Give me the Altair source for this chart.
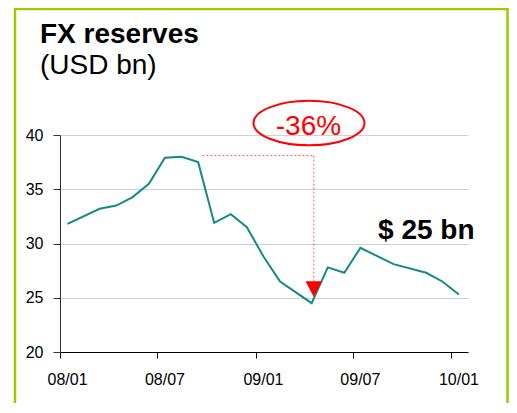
import altair as alt
import pandas as pd

# ---- data ----
dates = ["2008-01-15", "2008-03-15", "2008-04-15", "2008-05-15", "2008-06-15",
         "2008-07-15", "2008-08-15", "2008-09-15", "2008-10-15", "2008-11-15",
         "2008-12-15", "2009-01-15", "2009-02-15", "2009-04-15", "2009-05-15",
         "2009-06-15", "2009-07-15", "2009-09-15", "2009-11-15", "2009-12-15",
         "2010-01-15"]
reserves = [31.8, 33.2, 33.5, 34.25, 35.5, 37.9, 38.0, 37.5, 31.9, 32.7,
            31.5, 28.8, 26.5, 24.5, 27.8, 27.3, 29.6, 28.1, 27.3, 26.5, 25.3]

# titles
title_text = ["FX reserves"]
subtitle_text = ["(USD bn)"]

# annotation anchors (dates / values)
peak_start = ["2008-09-23"]
drop_date = ["2009-04-19"]
peak_level = [38.1]
trough_level = [26.5]
arrow_level = [25.8]
ellipse_date = ["2009-04-10"]
ellipse_level = [41.1]
pct_label = ["-36%"]
pct_date = ["2009-04-09"]
pct_level = [40.0]
last_label = ["$ 25 bn"]
last_date = ["2009-08-17"]
last_level = [30.4]

tick_dates = [(2008, 1), (2008, 7), (2009, 1), (2009, 7), (2010, 1)]
y_ticks = [20, 25, 30, 35, 40]

FONT = "Liberation Sans"
TEAL = "#138a88"
RED = "#ff0000"
GREEN = "#99cc00"

df = pd.DataFrame({"date": dates, "value": reserves})

x_scale = alt.Scale(
    type="utc",
    domain=[alt.DateTime(year=2008, month=1, date=1, utc=True),
            alt.DateTime(year=2010, month=2, date=1, utc=True)],
)
y_scale = alt.Scale(domain=[20, 40], zero=False, nice=False)

x_axis = alt.Axis(
    values=[alt.DateTime(year=y, month=m, date=1, utc=True) for y, m in tick_dates],
    format="%y/%m", grid=False, domainColor="black", tickColor="black",
    tickSize=6, labelFont=FONT, labelFontSize=16, labelColor="black",
    labelPadding=13, labelOffset=7, labelFlush=False, labelOverlap=False,
    title=None, labelAngle=0,
)
y_axis = alt.Axis(
    values=y_ticks, grid=True, gridColor="#d0d0d0", gridWidth=1,
    domainColor="#333333", tickColor="#333333", tickSize=7,
    labelFont=FONT, labelFontSize=16, labelColor="black", labelPadding=10,
    title=None,
)

line = alt.Chart(df).mark_line(color=TEAL, strokeWidth=2).encode(
    x=alt.X("date:T", scale=x_scale, axis=x_axis),
    y=alt.Y("value:Q", scale=y_scale, axis=y_axis),
)

hdf = pd.DataFrame({"start": peak_start, "end": drop_date, "level": peak_level})
hrule = alt.Chart(hdf).mark_rule(color="#ff5a5a", strokeDash=[2, 2], strokeWidth=1).encode(
    x=alt.X("start:T", title=None), x2="end:T",
    y=alt.Y("level:Q", title=None),
)

vdf = pd.DataFrame({"date": drop_date, "top": peak_level, "bottom": trough_level})
vrule = alt.Chart(vdf).mark_rule(color="#ff5a5a", strokeDash=[2, 2], strokeWidth=1).encode(
    x=alt.X("date:T", title=None),
    y=alt.Y("top:Q", title=None), y2="bottom:Q",
)

adf = pd.DataFrame({"date": drop_date, "level": arrow_level})
arrow = alt.Chart(adf).mark_point(
    shape="M -1 -0.94 L 1 -0.94 L 0 0.94 Z", filled=True, fill=RED,
    color=RED, opacity=1, size=276, strokeWidth=0,
).encode(
    x=alt.X("date:T", title=None), y=alt.Y("level:Q", title=None),
)

edf = pd.DataFrame({"date": ellipse_date, "level": ellipse_level})
ellipse = alt.Chart(edf).mark_point(
    shape=("M -1 0 C -1 -0.221 -0.5523 -0.4 0 -0.4 C 0.5523 -0.4 1 -0.221 1 0 "
           "C 1 0.221 0.5523 0.4 0 0.4 C -0.5523 0.4 -1 0.221 -1 0 Z"),
    filled=False, color=RED, stroke=RED, strokeWidth=2, opacity=1, size=12321,
).encode(
    x=alt.X("date:T", title=None), y=alt.Y("level:Q", title=None),
)

pdf = pd.DataFrame({"date": pct_date, "level": pct_level, "label": pct_label})
pct_text = alt.Chart(pdf).mark_text(
    font=FONT, fontSize=28, color=RED, align="center", baseline="alphabetic",
).encode(
    x=alt.X("date:T", title=None), y=alt.Y("level:Q", title=None), text="label:N",
)

ldf = pd.DataFrame({"date": last_date, "level": last_level, "label": last_label})
last_text = alt.Chart(ldf).mark_text(
    font=FONT, fontSize=28, fontWeight="bold", color="black", align="left",
    baseline="alphabetic",
).encode(
    x=alt.X("date:T", title=None), y=alt.Y("level:Q", title=None), text="label:N",
)

frame = alt.Chart(pd.DataFrame({"k": [0]})).mark_rect(
    fillOpacity=0, stroke=GREEN, strokeWidth=2.5,
).encode(
    x=alt.value(-45), x2=alt.value(447.5), y=alt.value(-126), y2=alt.value(300),
)

title_mark = alt.Chart(pd.DataFrame({"t": title_text})).mark_text(
    font=FONT, fontSize=28, fontWeight="bold", color="black", align="left",
    baseline="alphabetic",
).encode(x=alt.value(-20), y=alt.value(-92), text="t:N")

subtitle_mark = alt.Chart(pd.DataFrame({"t": subtitle_text})).mark_text(
    font=FONT, fontSize=28, color="black", align="left", baseline="alphabetic",
).encode(x=alt.value(-20), y=alt.value(-61), text="t:N")

chart = alt.layer(
    line, hrule, vrule, arrow, ellipse, pct_text, last_text, frame,
    title_mark, subtitle_mark,
).properties(
    width=408, height=217,
    padding={"left": 52, "right": 41, "top": 127, "bottom": 51},
    autosize=alt.AutoSizeParams(type="none"),
).configure_view(strokeWidth=0)

chart.save("out.html", embed_options={"renderer": "svg", "actions": False})
